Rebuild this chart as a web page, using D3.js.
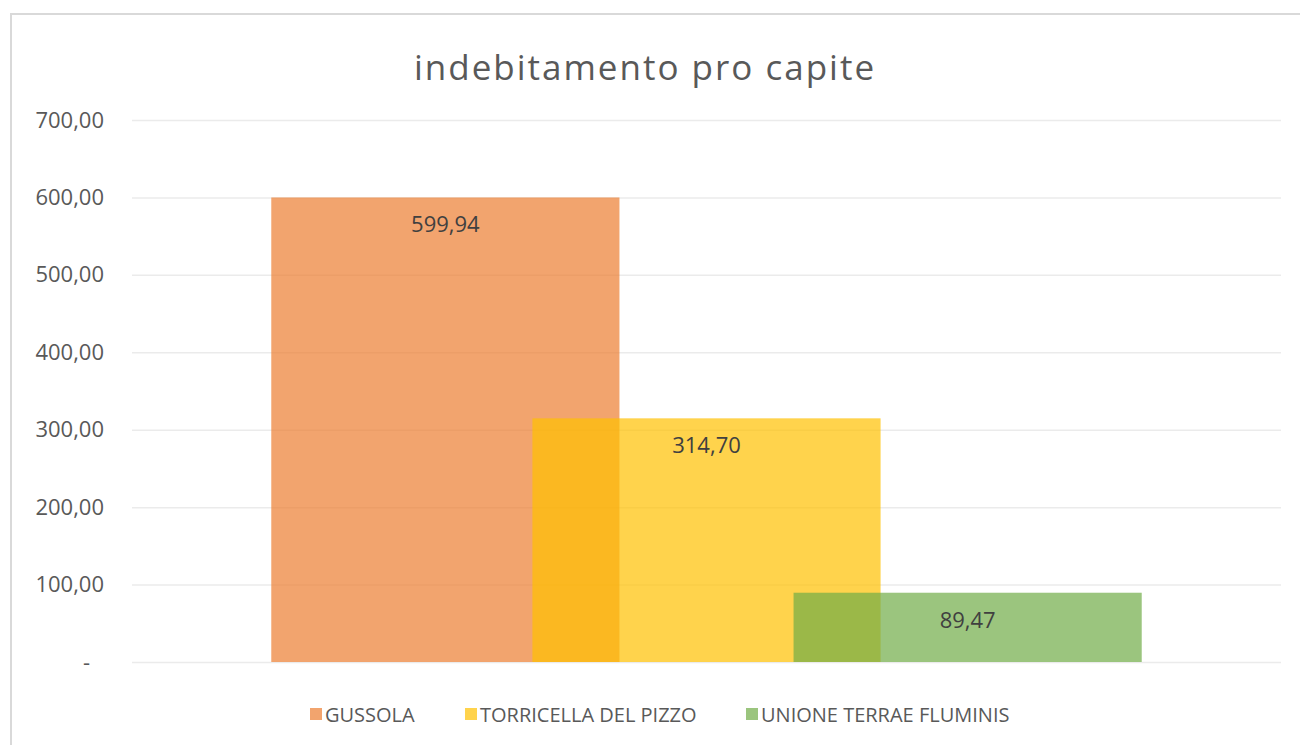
<!DOCTYPE html>
<html>
<head>
<meta charset="utf-8">
<script src="https://cdn.jsdelivr.net/npm/d3@7"></script>
<style>
  body { margin: 0; background: #fff; }
  svg text { font-family: "Open Sans", sans-serif; }
</style>
</head>
<body>
<svg id="chart" width="1300" height="745"></svg>
<script>
// dati
const series = ["GUSSOLA", "TORRICELLA DEL PIZZO", "UNIONE TERRAE FLUMINIS"];
const values = [599.94, 314.70, 89.47];
const colors = ["#ED7D31", "#FFC000", "#70AD47"];
const yTicks = [0, 100, 200, 300, 400, 500, 600, 700];

const svg = d3.select("#chart");
const W = 1300, H = 745;
const margin = { top: 120, right: 19, bottom: 83, left: 132 };
const innerW = W - margin.left - margin.right;
const innerH = H - margin.top - margin.bottom;

// cornice del grafico
svg.append("rect")
  .attr("x", 11).attr("y", 14)
  .attr("width", 1300).attr("height", 760)
  .attr("fill", "none")
  .attr("stroke", "#d9d9d9")
  .attr("stroke-width", 2);

// titolo
svg.append("text")
  .attr("x", 645).attr("y", 80)
  .attr("text-anchor", "middle")
  .style("font-size", "35px")
  .style("letter-spacing", "2px")
  .style("fill", "#595959")
  .text("indebitamento pro capite");

const g = svg.append("g").attr("transform", `translate(${margin.left},${margin.top})`);

const y = d3.scaleLinear().domain([0, 700]).range([innerH, 0]);

// griglia
g.append("g")
  .call(d3.axisLeft(y).tickValues(yTicks).tickSize(-innerW).tickFormat(""))
  .call(s => s.select(".domain").remove())
  .call(s => s.selectAll("line").attr("stroke", "#ebebeb").attr("stroke-width", 1.5));

// etichette asse Y (formato italiano, zero come "-")
const fmt = d3.formatLocale({ decimal: ",", thousands: ".", grouping: [3], currency: ["€", ""] }).format(",.2f");
const yAxis = g.append("g")
  .call(d3.axisLeft(y).tickValues(yTicks).tickSize(0).tickPadding(28)
    .tickFormat(d => d === 0 ? "-" : fmt(d)))
  .call(s => s.select(".domain").remove());
yAxis.selectAll("text")
  .style("font-size", "22px")
  .style("fill", "#595959")
  .attr("dx", d => d === 0 ? -14 : 0);

// posizione delle serie (cluster con sovrapposizione)
const x = d3.scalePoint().domain(series).range([0, innerW]).padding(1.2);
const barW = x.step() * 4 / 3;

g.selectAll("rect.bar").data(series).join("rect")
  .attr("class", "bar")
  .attr("x", d => x(d) - barW / 2)
  .attr("width", barW)
  .attr("y", (d, i) => y(values[i]))
  .attr("height", (d, i) => y(0) - y(values[i]))
  .attr("fill", (d, i) => colors[i])
  .attr("fill-opacity", 0.7);

g.selectAll("text.lbl").data(series).join("text")
  .attr("class", "lbl")
  .attr("x", d => x(d))
  .attr("y", (d, i) => y(values[i]) + 35)
  .attr("text-anchor", "middle")
  .style("font-size", "22px")
  .style("fill", "#404040")
  .text((d, i) => fmt(values[i]));

// legenda
const legX = [310, 465, 746];
const legend = svg.append("g").attr("transform", "translate(0,714)");
series.forEach((s, i) => {
  legend.append("rect")
    .attr("x", legX[i]).attr("y", -6)
    .attr("width", 12).attr("height", 12)
    .attr("fill", colors[i]).attr("fill-opacity", 0.7);
  legend.append("text")
    .attr("x", legX[i] + 15).attr("y", 8)
    .style("font-size", "20px")
    .style("fill", "#595959")
    .text(s);
});
</script>
</body>
</html>
